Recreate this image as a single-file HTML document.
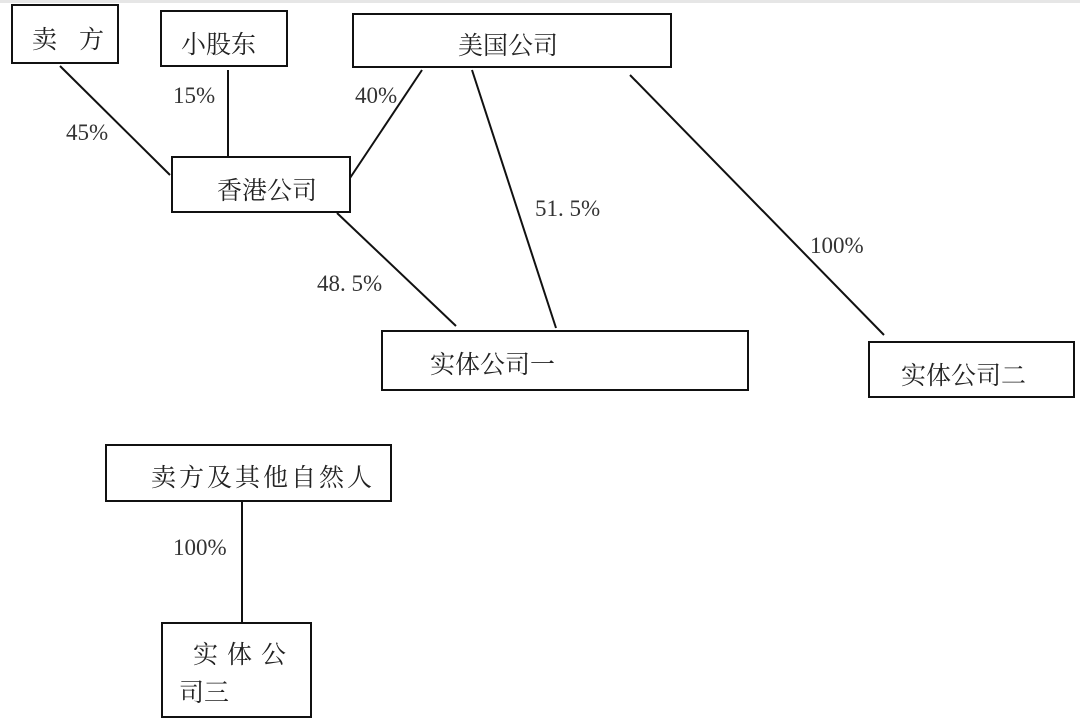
<!DOCTYPE html>
<html><head><meta charset="utf-8"><style>
body{margin:0;background:#fff;width:1080px;height:726px;overflow:hidden;position:relative;font-family:"Liberation Serif","Noto Serif CJK SC",serif;}
.b{position:absolute;border:2.5px solid #111;box-sizing:border-box;font-size:25px;color:#222;white-space:nowrap;}
.t{position:absolute;font-size:23px;color:#333;font-family:"Liberation Serif",serif;}
svg{position:absolute;left:0;top:0}
</style></head><body>
<div style="position:absolute;left:0;top:0;width:1080px;height:3px;background:#e6e6e6"></div>
<svg width="1080" height="726"><g stroke="#111" stroke-width="2">
<line x1="60" y1="66" x2="170" y2="175"/>
<line x1="228" y1="70" x2="228" y2="156"/>
<line x1="422" y1="70" x2="350" y2="178"/>
<line x1="472" y1="70" x2="556" y2="328"/>
<line x1="337" y1="213" x2="456" y2="326"/>
<line x1="630" y1="75" x2="884" y2="335"/>
<line x1="242" y1="502" x2="242" y2="622"/>
</g></svg>
<div class="b" style="left:11px;top:4px;width:108px;height:60px;padding:14px 0 0 19px">卖<span style="margin-left:22px">方</span></div>
<div class="b" style="left:160px;top:10px;width:128px;height:57px;padding:13px 0 0 19px">小股东</div>
<div class="b" style="left:352px;top:13px;width:320px;height:55px;padding:11px 0 0 104px">美国公司</div>
<div class="b" style="left:171px;top:156px;width:180px;height:57px;padding:13px 0 0 44px">香港公司</div>
<div class="b" style="left:381px;top:330px;width:368px;height:61px;padding:13px 0 0 47px">实体公司一</div>
<div class="b" style="left:868px;top:341px;width:207px;height:57px;padding:13px 0 0 31px">实体公司二</div>
<div class="b" style="left:105px;top:444px;width:287px;height:58px;padding:12px 0 0 44px;letter-spacing:3px">卖方及其他自然人</div>
<div class="b" style="left:161px;top:622px;width:151px;height:96px;padding:13px 0 0 30px;line-height:38px;letter-spacing:9px">实体公<br><span style="margin-left:-14px;letter-spacing:0">司三</span></div>
<div class="t" style="left:66px;top:120px">45%</div>
<div class="t" style="left:173px;top:83px">15%</div>
<div class="t" style="left:355px;top:83px">40%</div>
<div class="t" style="left:535px;top:196px">51. 5%</div>
<div class="t" style="left:317px;top:271px">48. 5%</div>
<div class="t" style="left:810px;top:233px">100%</div>
<div class="t" style="left:173px;top:535px">100%</div>
</body></html>
